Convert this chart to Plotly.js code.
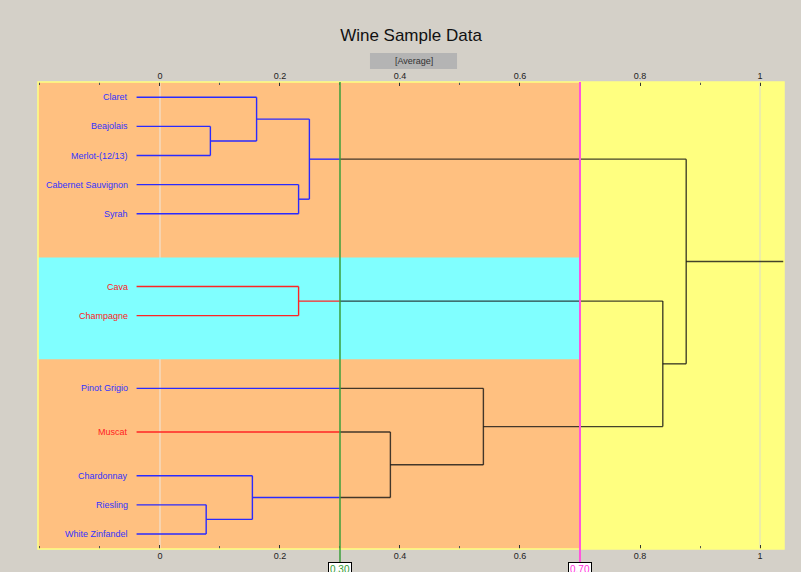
<!DOCTYPE html>
<html>
<head>
<meta charset="utf-8">
<script src="https://cdn.plot.ly/plotly-3.0.1.min.js"></script>
<style>html,body{margin:0;padding:0;background:rgb(212,208,200);}#chart{width:801px;height:572px;}</style>
</head>
<body>
<div id="chart"></div>
<script>
// ---- data ----
const leafNames = ["Claret","Beajolais","Merlot-(12/13)","Cabernet Sauvignon","Syrah","Cava","Champagne","Pinot Grigio","Muscat","Chardonnay","Riesling","White Zinfandel"];
const leafRow = [0, 1, 2, 3, 4, 6.5, 7.5, 10, 11.5, 13, 14, 15];
const leafCluster = ["blue","blue","blue","blue","blue","red","red","blue","red","blue","blue","blue"];
// merges: node index = 12 + i
const mergeLeft   = [1, 0, 3, 13, 5, 10, 9, 8, 7, 16, 15];
const mergeRight  = [2, 12, 4, 14, 6, 11, 17, 18, 19, 20, 21];
const mergeHeight = [0.084, 0.161, 0.231, 0.249, 0.231, 0.077, 0.154, 0.384, 0.539, 0.838, 0.877];
const cutLow = 0.30, cutHigh = 0.70;
const cutLowLabel = "0.30", cutHighLabel = "0.70";
const bandCyan = [5.5, 9.0];
const tickVals = [0, 0.2, 0.4, 0.6, 0.8, 1];
const tickText = ["0", "0.2", "0.4", "0.6", "0.8", "1"];

// ---- style ----
const xMin = -0.2033, xMax = 1.04;
const leafStart = -0.039;
const colorMap = {blue: "#2a2aff", red: "#ff2424", black: "rgba(20,20,20,0.8)"};
const textColorMap = {blue: "#3333ff", red: "#ff2020"};

// ---- build dendrogram ----
const nodeX = [], nodeY = [], nodeC = [];
leafNames.forEach((n, i) => { nodeX.push(leafStart); nodeY.push(leafRow[i]); nodeC.push(leafCluster[i]); });
mergeHeight.forEach((h, i) => {
  const a = mergeLeft[i], b = mergeRight[i];
  nodeX.push(h);
  nodeY.push((nodeY[a] + nodeY[b]) / 2);
  nodeC.push((nodeC[a] === nodeC[b] && h < cutLow) ? nodeC[a] : "black");
});
const segs = {blue: {x: [], y: []}, red: {x: [], y: []}, black: {x: [], y: []}};
function push(c, x0, y0, x1, y1) { segs[c].x.push(x0, x1, null); segs[c].y.push(y0, y1, null); }
function hseg(x0, x1, y, c) {
  if (c !== "black" && x1 > cutLow) {
    push(c, x0, y, cutLow, y);
    push("black", cutLow, y, x1, y);
  } else push(c, x0, y, x1, y);
}
mergeHeight.forEach((h, i) => {
  const p = leafNames.length + i;
  [mergeLeft[i], mergeRight[i]].forEach(ch => {
    const c = ch < leafNames.length ? leafCluster[ch] : nodeC[ch];
    hseg(nodeX[ch], h, nodeY[ch], c);
  });
  push(nodeC[p], h, nodeY[mergeLeft[i]], h, nodeY[mergeRight[i]]);
});
const root = nodeX.length - 1;
hseg(nodeX[root], xMax, nodeY[root], "black");

const traces = ["blue", "red", "black"].map(c => ({
  type: "scatter", mode: "lines", x: segs[c].x, y: segs[c].y,
  line: {color: colorMap[c], width: 1.4}, hoverinfo: "skip", showlegend: false, xaxis: "x", yaxis: "y"
}));
traces.push({type: "scatter", mode: "markers", x: [0], y: [0], xaxis: "x2", yaxis: "y",
  marker: {opacity: 0}, hoverinfo: "skip", showlegend: false});

const annotations = leafNames.map((n, i) => ({
  x: -0.05, y: leafRow[i], xref: "x", yref: "y", text: n, showarrow: false,
  xanchor: "right", yanchor: "middle", font: {family: "Liberation Sans, Arial", size: 9, color: textColorMap[leafCluster[i]]}
}));
annotations.push({x: 0.5035, y: 1.045, xref: "paper", yref: "paper", text: "[Average]", showarrow: false,
  xanchor: "center", yanchor: "middle", font: {family: "Liberation Sans, Arial", size: 9, color: "#333"}});
[[cutLow, cutLowLabel, "#2f9a2f"], [cutHigh, cutHighLabel, "#ff33dd"]].forEach(([v, t, c]) => {
  annotations.push({x: v, y: -0.027, xref: "x", yref: "paper", text: t, showarrow: false,
    xanchor: "center", yanchor: "top", bgcolor: "#ffffff", bordercolor: "#000", borderwidth: 1, borderpad: 1,
    font: {family: "Liberation Sans, Arial", size: 10, color: c}});
});

const shapes = [
  {type: "rect", xref: "x", yref: "y", x0: xMin, x1: cutHigh, y0: bandCyan[0], y1: bandCyan[1], fillcolor: "#80ffff", line: {width: 0}, layer: "below"},
  {type: "rect", xref: "x", yref: "paper", x0: cutHigh, x1: xMax, y0: 0, y1: 1, fillcolor: "#ffff80", line: {width: 0}, layer: "below"},
  {type: "line", xref: "x", yref: "paper", x0: 0, x1: 0, y0: 0, y1: 1, line: {color: "rgba(235,235,235,0.9)", width: 1}, layer: "below"},
  {type: "line", xref: "x", yref: "paper", x0: 1, x1: 1, y0: 0, y1: 1, line: {color: "rgba(215,215,215,0.9)", width: 1}, layer: "below"},
  {type: "rect", xref: "paper", yref: "paper", x0: 0, x1: 1, y0: 0, y1: 1, line: {color: "#ffff80", width: 1.5}},
  {type: "rect", xref: "paper", yref: "paper", x0: 0.445, x1: 0.5617, y0: 1.0278, y1: 1.062, fillcolor: "#b4b4b4", line: {width: 0}},
  {type: "line", xref: "x", yref: "paper", x0: cutLow, x1: cutLow, y0: -0.028, y1: 1, line: {color: "#3a9e3a", width: 1.5}},
  {type: "line", xref: "x", yref: "paper", x0: cutHigh, x1: cutHigh, y0: -0.028, y1: 1, line: {color: "#ff55dd", width: 2}}
];

const axisCommon = {
  range: [xMin, xMax], tickvals: tickVals, ticktext: tickText, ticks: "inside", ticklen: 4, tickcolor: "#333",
  tickfont: {family: "Liberation Sans, Arial", size: 9, color: "#222"}, showgrid: false, zeroline: false, showline: false,
  minor: {ticks: "inside", dtick: 0.1, tick0: 0, ticklen: 3, tickcolor: "#555"}
};
const layout = {
  width: 801, height: 572,
  paper_bgcolor: "rgb(212,208,200)", plot_bgcolor: "#ffc080",
  margin: {l: 38, r: 17, t: 82, b: 23},
  title: {text: "Wine Sample Data", x: 0.5, xref: "paper", y: 0.939, yref: "container", yanchor: "middle",
    font: {family: "Liberation Sans, Arial", size: 17, color: "#111"}},
  xaxis: Object.assign({}, axisCommon, {side: "bottom"}),
  xaxis2: Object.assign({}, axisCommon, {side: "top", overlaying: "x", matches: "x"}),
  yaxis: {range: [15.517, -0.526], visible: false, showgrid: false, zeroline: false},
  shapes: shapes, annotations: annotations, showlegend: false
};
Plotly.newPlot("chart", traces, layout, {displayModeBar: false, staticPlot: true});
</script>
</body>
</html>
